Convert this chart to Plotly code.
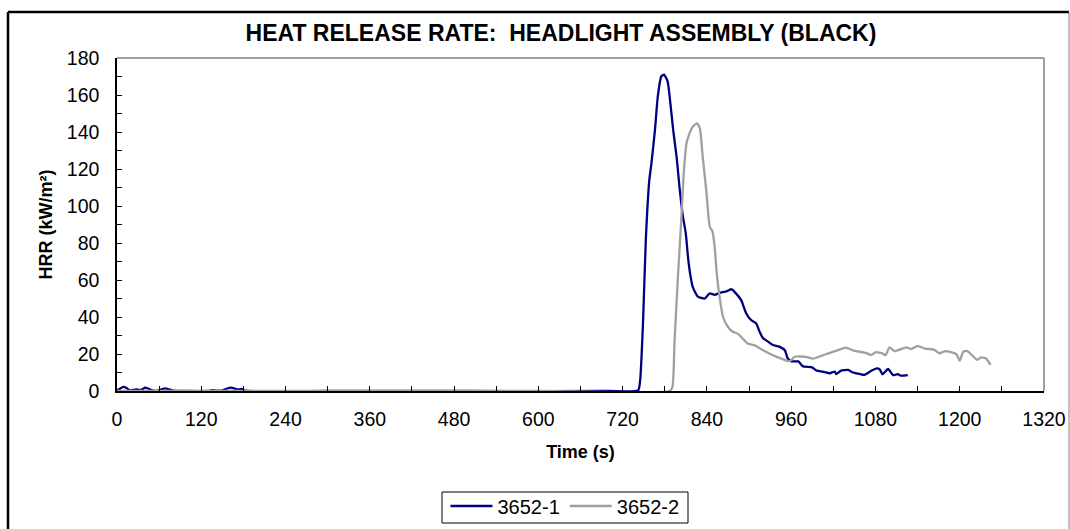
import plotly.graph_objects as go

# Heat release rate test data, two runs of the black headlight assembly
time_3652_1 = [0, 4, 9, 14, 18, 24, 28, 32, 36, 40, 45, 50, 58, 64, 69, 74, 80, 100, 130, 136, 141,
               150, 156, 162, 167, 172, 177, 181, 186, 300, 500, 700, 742,
               745, 749, 753, 758, 761, 766, 770, 775, 779, 784, 787, 792, 797, 801, 806, 810,
               813, 816, 820, 827, 837, 844, 851, 858, 868, 875, 882, 889, 896, 903, 910, 915,
               920, 927, 934, 943, 951, 955, 960, 970, 977, 989, 996, 1005, 1015, 1022, 1024,
               1031, 1041, 1048, 1057, 1064, 1074, 1082, 1086, 1090, 1098, 1105, 1112, 1116, 1126]
hrr_3652_1 = [0.3, 1.2, 2.2, 1.5, 0.4, 0.6, 0.9, 0.5, 0.9, 1.8, 1.2, 0.3, 0.2, 1.0, 1.4, 0.9, 0.2, 0, 0, 0.4, 0.2,
              0.3, 1.2, 1.8, 1.4, 0.8, 1.1, 0.3, 0, 0, 0, 0, 0.3,
              6, 36.6, 81.6, 114, 123, 141, 159, 170, 171, 167.5, 159, 141, 126, 110, 94, 85,
              72.6, 63.6, 56, 51, 50, 52.8, 52, 53, 53.9, 55, 52.5, 49, 41.9, 38.3, 36.6, 32.1,
              28.5, 26.7, 24.9, 24, 22, 17.7, 16, 16, 13.3, 12.9, 11.1, 10.5, 9.6, 10.5, 9.1,
              11, 11.4, 10, 9.3, 8.7, 10.9, 12.2, 11.7, 9, 11.9, 8.6, 9.1, 8.3, 8.6]

time_3652_2 = [0, 300, 600, 787, 791, 794, 799, 804, 807, 811, 815, 820, 826, 830, 834, 839, 844, 848,
               851, 854, 858, 863, 870, 877, 884, 891, 898, 908, 920, 934, 946, 958, 965, 981,
               991, 1005, 1012, 1019, 1026, 1038, 1048, 1067, 1074, 1081, 1090, 1094, 1100, 1107,
               1124, 1131, 1140, 1150, 1157, 1164, 1171, 1180, 1195, 1200, 1205, 1211, 1225, 1230,
               1237, 1244]
hrr_3652_2 = [0, 0, 0, 0, 2.3, 27.6, 63.6, 96, 117.6, 134, 139, 143, 144.7, 142, 126.7, 108.7, 88.9, 86.1,
              78, 63.6, 51, 40, 34.6, 32, 31, 28.4, 25.7, 24.7, 22, 19.3, 17.5, 16.1, 18.5, 18.5,
              17.5, 19.3, 20.2, 21.1, 22, 23.4, 22, 20.5, 19.5, 21, 20.4, 19.2, 23.6, 21.6,
              23.6, 22.7, 24.4, 22.9, 22.7, 22.2, 20.4, 21.6, 20, 16.4, 21.3, 21.6, 16.8, 18.2,
              17.7, 14.1]

x_ticks = list(range(0, 1321, 120))
y_ticks = list(range(0, 181, 20))

FONT = "Arial, Liberation Sans, sans-serif"

fig = go.Figure()
fig.add_trace(go.Scatter(x=time_3652_1, y=hrr_3652_1, mode="lines", name="3652-1",
                         line=dict(color="#000080", width=2.3, shape="spline", smoothing=0.5)))
fig.add_trace(go.Scatter(x=time_3652_2, y=hrr_3652_2, mode="lines", name="3652-2",
                         line=dict(color="#A0A0A0", width=2.3, shape="spline", smoothing=0.5)))

# Plot-area box: gray top/right edges
fig.add_shape(type="line", xref="paper", yref="paper", x0=0, x1=1, y0=1, y1=1,
              line=dict(color="#808080", width=1.5))
fig.add_shape(type="line", xref="paper", yref="paper", x0=1, x1=1, y0=0, y1=1,
              line=dict(color="#808080", width=1.5))

# Pixel -> paper helpers for decorations outside the plot area
px_w, px_h = 927.0, 333.0
def px_x(x):
    return (x - 117) / px_w
def px_y(y):
    return (391 - y) / px_h

# Outer chart frame
fig.add_shape(type="line", xref="paper", yref="paper", x0=px_x(8), x1=px_x(1069), y0=px_y(12), y1=px_y(12),
              line=dict(color="black", width=2.5))
fig.add_shape(type="line", xref="paper", yref="paper", x0=px_x(8), x1=px_x(8), y0=px_y(12), y1=px_y(600),
              line=dict(color="black", width=2.5))
fig.add_shape(type="line", xref="paper", yref="paper", x0=px_x(1069), x1=px_x(1069), y0=px_y(12), y1=px_y(600),
              line=dict(color="#808080", width=1))

# Legend frame
fig.add_shape(type="rect", xref="paper", yref="paper", x0=px_x(442), x1=px_x(688), y0=px_y(523), y1=px_y(492),
              line=dict(color="black", width=1), fillcolor="rgba(0,0,0,0)")

fig.update_layout(
    width=1070, height=529,
    margin=dict(l=117, r=26, t=58, b=138, autoexpand=False),
    paper_bgcolor="white", plot_bgcolor="white",
    font=dict(family=FONT, color="black"),
    title=dict(text="<b>HEAT RELEASE RATE:  HEADLIGHT ASSEMBLY (BLACK)</b>",
               x=561 / 1070, xanchor="center", y=1 - 33 / 529, yanchor="middle",
               font=dict(size=23, family=FONT, color="black")),
    showlegend=True,
    legend=dict(orientation="h", x=px_x(565), xanchor="center", y=px_y(486.5), yanchor="top",
                borderwidth=0, bgcolor="rgba(0,0,0,0)",
                font=dict(size=20, family=FONT), itemwidth=42, tracegroupgap=0),
)

fig.update_xaxes(
    range=[0, 1320], tickmode="array", tickvals=x_ticks, ticktext=[str(v) for v in x_ticks],
    ticks="inside", ticklen=5, tickwidth=1, tickcolor="black",
    minor=dict(dtick=60, ticks="inside", ticklen=5, tickwidth=1, tickcolor="black"),
    showline=True, linecolor="black", linewidth=1.5, showgrid=False, zeroline=False,
    tickfont=dict(size=19.5, family=FONT), ticklabelstandoff=10, automargin=False,
    title=dict(text="<b>Time (s)</b>", font=dict(size=18, family=FONT), standoff=16),
)
fig.update_yaxes(
    range=[0, 180], tickmode="array", tickvals=y_ticks, ticktext=[str(v) for v in y_ticks],
    ticks="inside", ticklen=5, tickwidth=1, tickcolor="black",
    minor=dict(dtick=10, ticks="inside", ticklen=5, tickwidth=1, tickcolor="black"),
    showline=True, linecolor="black", linewidth=1.5, showgrid=False, zeroline=False,
    tickfont=dict(size=19.5, family=FONT), ticklabelstandoff=12, automargin=False,
    title=dict(text="<b>HRR (kW/m²)</b>", font=dict(size=18, family=FONT), standoff=10),
)

fig.write_html("out.html")
